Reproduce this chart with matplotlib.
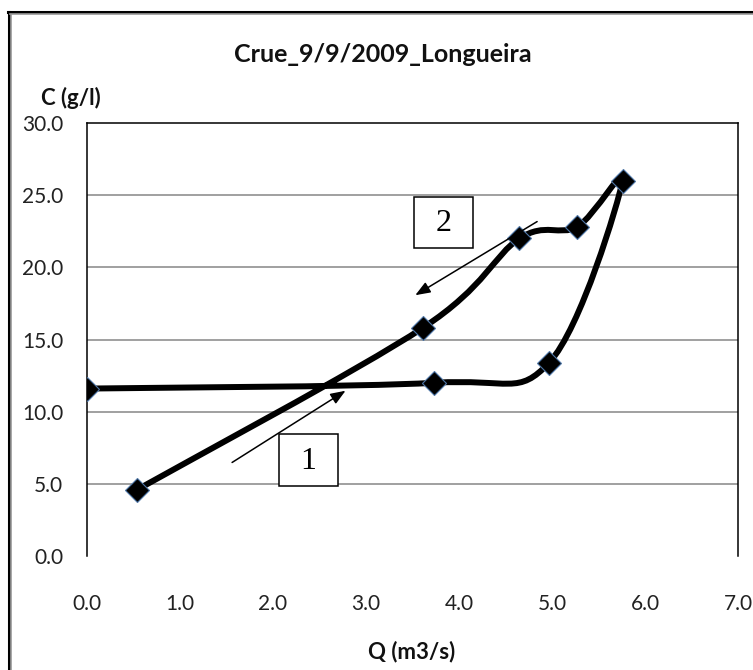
"""
Hystérésis C-Q, crue du 9/9/2009 à Longueira (courbe lissée façon Excel).
"""
import numpy as np
import matplotlib

matplotlib.use("Agg")
import matplotlib.pyplot as plt  # noqa: E402
from matplotlib.path import Path  # noqa: E402
from matplotlib.patches import PathPatch, Rectangle  # noqa: E402
from matplotlib.lines import Line2D  # noqa: E402

plt.rcParams["font.family"] = ["Lato", "DejaVu Sans"]

# points dans l'ordre de la série (montée puis descente)
q = [0.54, 3.61, 4.65, 5.27, 5.76, 4.97, 3.73, 0.0]
c = [4.6, 15.8, 22.0, 22.8, 26.0, 13.4, 12.0, 11.6]

x_ticks = [0, 1, 2, 3, 4, 5, 6, 7]
y_ticks = [0, 5, 10, 15, 20, 25, 30]

W, H = 753, 670


def smooth_path(xs, ys):
    # Bezier type Catmull-Rom (tension 1/6), comme le lissage Excel
    p = np.column_stack([xs, ys]).astype(float)
    n = len(p)
    verts = [p[0]]
    codes = [Path.MOVETO]
    for i in range(n - 1):
        p0 = p[i - 1] if i > 0 else p[i]
        p1, p2 = p[i], p[i + 1]
        p3 = p[i + 2] if i + 2 < n else p[i + 1]
        verts += [p1 + (p2 - p0) / 6, p2 - (p3 - p1) / 6, p2]
        codes += [Path.CURVE4] * 3
    return Path(verts, codes)


fig = plt.figure(figsize=(W / 100, H / 100), dpi=100)
ax = fig.add_axes([87 / W, 1 - 556 / H, (738 - 87) / W, (556 - 123) / H])

ax.set_xlim(0, 7)
ax.set_ylim(0, 30)
ax.set_xticks(x_ticks)
ax.set_xticklabels([f"{v:.1f}" for v in x_ticks])
ax.set_yticks(y_ticks)
ax.set_yticklabels([f"{v:.1f}" for v in y_ticks])
ax.tick_params(length=0, labelsize=15, colors="#222222")
ax.tick_params(axis="x", pad=27)
ax.tick_params(axis="y", pad=17)

for v in y_ticks[1:-1]:
    ax.axhline(v, color="#868686", lw=1.1, zorder=1)
ax.spines["bottom"].set_visible(False)
for s in ("left", "top", "right"):
    ax.spines[s].set_color("black")
    ax.spines[s].set_linewidth(1.1)

ax.add_patch(PathPatch(smooth_path(q, c), fill=False, lw=4.3, ec="black",
                       capstyle="round", joinstyle="round", zorder=3))
ax.plot(q, c, ls="none", marker="D", ms=12.5, mfc="black", mec="#4f77a8",
        mew=0.8, zorder=4)

# flèches et étiquettes 1 / 2
arrow = dict(arrowstyle="-|>,head_length=0.9,head_width=0.35", color="black",
             lw=1.1, shrinkA=0, shrinkB=0)
ax.annotate("", xy=(2.78, 11.45), xytext=(1.56, 6.48), arrowprops=arrow, zorder=5)
ax.annotate("", xy=(3.53, 18.07), xytext=(4.84, 23.17), arrowprops=arrow, zorder=5)
for x0, y0, lab in ((2.065, 4.83, "1"), (3.516, 21.31, "2")):
    ax.add_patch(Rectangle((x0, y0), 0.634, 3.59, fc="white", ec="black",
                           lw=1.1, zorder=5))
    ax.text(x0 + 0.317, y0 + 1.75, lab, ha="center", va="center",
            family="Liberation Serif", fontsize=23, zorder=6)

fig.text(383 / W, 1 - 55 / H, "Crue_9/9/2009_Longueira", ha="center",
         va="center", fontsize=18, weight="bold", color="#111111")
fig.text(71 / W, 1 - 98 / H, "C (g/l)", ha="center", va="center",
         fontsize=16, weight="bold", color="#111111")
fig.text(412 / W, 1 - 652 / H, "Q (m3/s)", ha="center", va="center",
         fontsize=16, weight="bold", color="#111111")

# cadre extérieur (coupé à droite et en bas)
fig.add_artist(Line2D([8.5 / W, 8.5 / W], [0, 1 - 11.5 / H], color="black", lw=2.2))
fig.add_artist(Line2D([10.8 / W, 10.8 / W], [0, 1 - 13.5 / H], color="#9a9a9a", lw=1.2))
fig.add_artist(Line2D([7.5 / W, 1], [1 - 11.5 / H, 1 - 11.5 / H], color="black", lw=2.2))
fig.add_artist(Line2D([10.2 / W, 1], [1 - 13.6 / H, 1 - 13.6 / H], color="#9a9a9a", lw=1.2))

fig.savefig("out.png", dpi=100)
